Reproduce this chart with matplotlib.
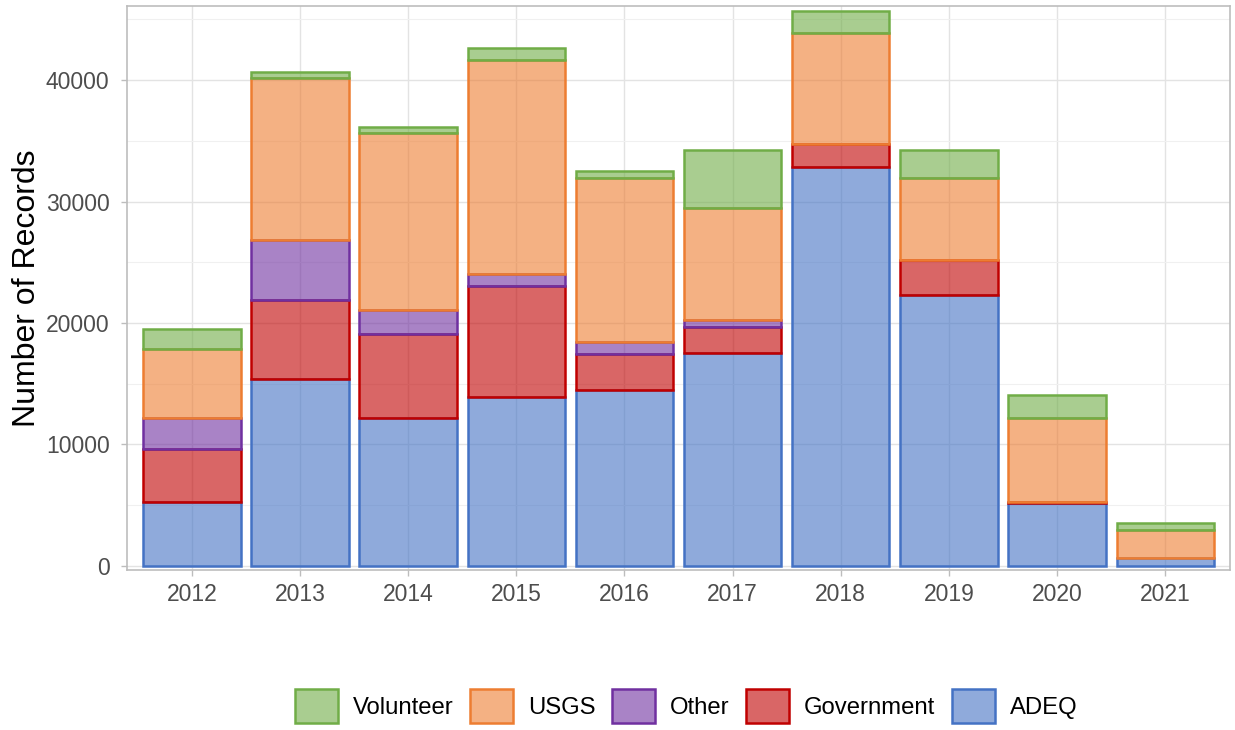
import matplotlib
matplotlib.use("Agg")
import matplotlib.pyplot as plt
from matplotlib.patches import Patch
from matplotlib.ticker import MultipleLocator
from matplotlib.colors import to_rgba
import numpy as np

plt.rcParams['font.family'] = ['Liberation Sans', 'DejaVu Sans']

years = ["2012", "2013", "2014", "2015", "2016", "2017", "2018", "2019", "2020", "2021"]
adeq = [5300, 15400, 12200, 13900, 14450, 17500, 32850, 22300, 5200, 650]
government = [4350, 6500, 6900, 9150, 3000, 2200, 1900, 2850, 100, 0]
other = [2550, 4900, 2000, 950, 950, 550, 0, 0, 0, 0]
usgs = [5650, 13350, 14550, 17650, 13500, 9200, 9100, 6750, 6850, 2300]
volunteer = [1650, 500, 500, 1000, 650, 4800, 1850, 2350, 1950, 550]

series = [
    ("ADEQ", adeq, "#4472C4"),
    ("Government", government, "#C00000"),
    ("Other", other, "#7030A0"),
    ("USGS", usgs, "#ED7D31"),
    ("Volunteer", volunteer, "#70AD47"),
]

fig = plt.figure(figsize=(12.35, 7.3), dpi=100)
ax = fig.add_axes([0.1028, 0.219, 0.8932, 0.7728])

x = np.arange(len(years))
bottom = np.zeros(len(years))
for name, vals, col in series:
    v = np.array(vals, dtype=float)
    mask = v > 0
    ax.bar(x[mask], v[mask], bottom=bottom[mask], width=0.9,
           facecolor=to_rgba(col, 0.6), edgecolor=col, linewidth=1.8, zorder=1)
    bottom += v

ax.set_xlim(-0.6, 9.6)
ax.set_ylim(-350, 46100)
ax.set_xticks(x)
ax.set_xticklabels(years)
ax.set_yticks([0, 10000, 20000, 30000, 40000])
ax.yaxis.set_minor_locator(MultipleLocator(5000))
ax.set_axisbelow(True)
ax.grid(True, which='major', color='#E3E3E3', linewidth=1.0)
ax.grid(True, which='minor', axis='y', color='#F0F0F0', linewidth=0.8)
for s in ax.spines.values():
    s.set_color('#BDBDBD')
    s.set_linewidth(1.2)
ax.tick_params(axis='both', which='major', labelsize=16.5, colors='#4D4D4D',
               length=4, width=1, color='#BDBDBD')
ax.tick_params(axis='x', which='major', pad=5)
ax.tick_params(axis='y', which='major', pad=8.5)
ax.tick_params(axis='y', which='minor', length=0)
ax.set_ylabel("Number of Records", fontsize=23, color='black', labelpad=3)

handles = [Patch(facecolor=to_rgba(col, 0.6), edgecolor=col, linewidth=1.8, label=name)
           for name, vals, col in series[::-1]]
fig.legend(handles=handles, loc='center', bbox_to_anchor=(0.5555, 0.033), ncol=5,
           frameon=False, fontsize=17.2, handlelength=1.8, handleheight=1.8,
           handletextpad=0.62, columnspacing=0.7)

fig.savefig("out.png", dpi=100)
